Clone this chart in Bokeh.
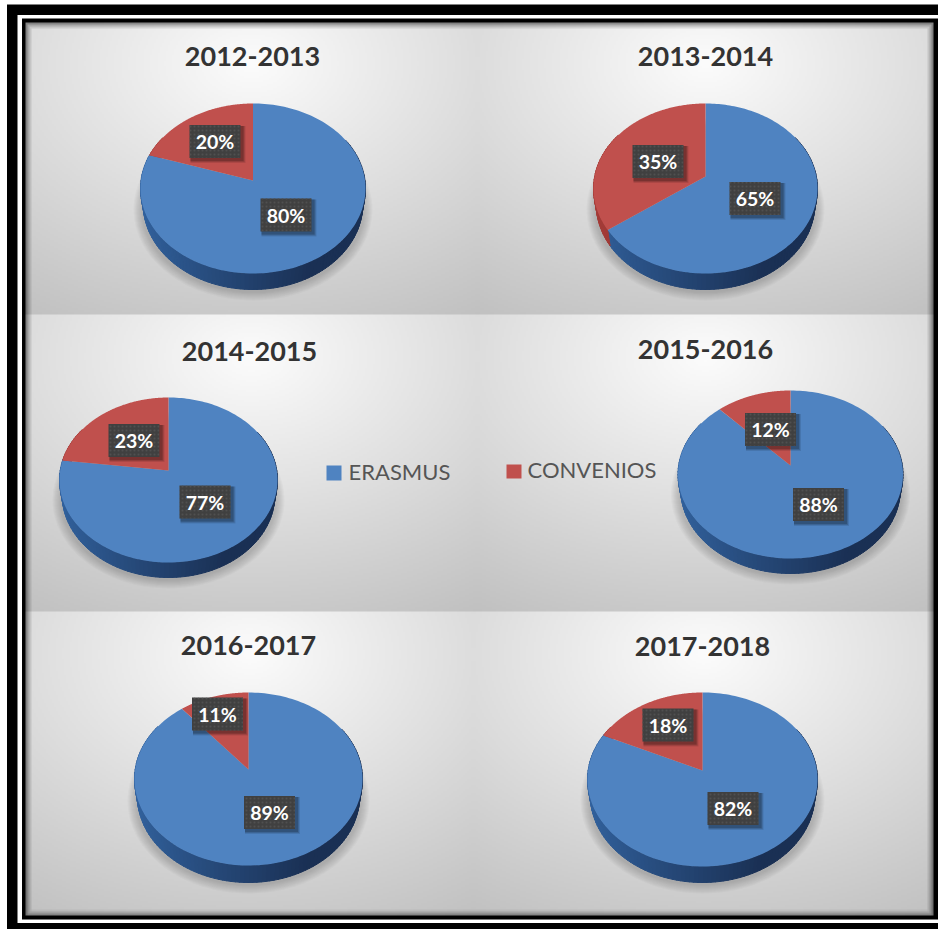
import numpy as np
from bokeh.embed import file_html
from bokeh.models import Range1d
from bokeh.plotting import figure
from bokeh.resources import INLINE
from bokeh.core.properties import value

# ---- data -----------------------------------------------------------------
years = ["2012-2013", "2013-2014", "2014-2015", "2015-2016", "2016-2017", "2017-2018"]
erasmus = [80, 65, 77, 88, 89, 82]
convenios = [20, 35, 23, 12, 11, 18]
series_names = ["ERASMUS", "CONVENIOS"]

# ---- layout (pixels in the picture) ---------------------------------------
W, H = 938, 929
# centre x, apex y, top y, bottom y, half width, depth
pies = [(252.5, 180, 103, 273, 112.5, 16), (705, 176, 103, 273, 112, 16),
        (168, 470, 397, 562, 109, 15), (790, 465, 390, 558, 112.5, 15),
        (248, 769, 692, 865, 114, 17), (702, 770, 692, 866, 115, 16)]
title_pos = [(252, 57), (705, 57), (249, 352), (705, 350), (248, 646), (702, 647)]
box_e = [(285.5, 214.5), (754.5, 198), (204.5, 501.5), (818, 504), (269, 812), (732.5, 808)]
box_c = [(214.5, 141), (657.5, 161), (133.5, 440), (770, 429), (217, 713.5), (667.5, 724.5)]
panels = [(25, 22, 477, 315), (477, 22, 933, 315), (25, 315, 477, 610),
          (477, 315, 933, 610), (25, 610, 473, 915), (473, 610, 933, 915)]
BLUE, RED = "#4f83c1", "#c0504d"


def Y(y):
    return H - np.asarray(y, dtype=float)


p = figure(width=W, height=H, x_range=Range1d(0, W), y_range=Range1d(0, H),
           output_backend="svg", toolbar_location=None, min_border=0,
           x_axis_location=None, y_axis_location=None, outline_line_color=None,
           background_fill_color="white", border_fill_color="white")
p.grid.visible = False

# frame
p.quad(left=6.5, right=W, top=Y(4), bottom=Y(H), fill_color="black", line_color=None)
p.quad(left=17, right=W, top=Y(14.5), bottom=Y(922.5), fill_color="white", line_color=None)
p.quad(left=21.5, right=W, top=Y(18), bottom=Y(919), fill_color="black", line_color=None)

# panel backgrounds
S = 2
gw, gh = (933 - 25) // S, (915 - 22) // S
xx, yy = np.meshgrid(25 + (np.arange(gw) + .5) * S, 22 + (np.arange(gh) + .5) * S)
img = np.zeros((gh, gw), dtype=float)
for (l, t, r, b) in panels:
    m = (xx >= l) & (xx < r) & (yy >= t) & (yy < b)
    cx, cy = (l + r) / 2, t + .14 * (b - t)
    d = np.sqrt(((xx - cx) / ((r - l) * .9)) ** 2 + ((yy - cy) / ((b - t) * .95)) ** 2)
    img[m] = (252 - 56 * d)[m]
edge = np.minimum.reduce([xx - 25, 933 - xx, yy - 22, 915 - yy])
img *= 0.4 + 0.6 * np.clip(edge / 7, 0, 1) ** .6
img = np.clip(img, 0, 255).astype(np.uint32)
rgba = (255 << 24) | (img << 16) | (img << 8) | img
p.image_rgba(image=[rgba[::-1]], x=25, y=H - 915, dw=908, dh=893)


def project(theta, pie):
    cx, ay, top, bot, rx, depth = pie
    up, dn = ay - top, bot - ay
    k = (dn - up) / (dn + up)
    b = up * (1 + k)
    a = rx * np.sqrt(1 - k * k)
    u, v = np.sin(theta), np.cos(theta)
    den = 1 + k * v
    return cx + a * u / den, ay - b * v / den


def mix(c1, c2, t):
    c = [round(x + (y - x) * t) for x, y in zip(c1, c2)]
    return "#%02x%02x%02x" % tuple(c)


for i, pie in enumerate(pies):
    cx, ay, top, bot, rx, depth = pie
    # soft shadow
    cy = (top + bot) / 2
    for g in range(9):
        p.ellipse(x=cx, y=Y(cy + depth + 5), width=2 * rx + 14 - 2 * g, height=bot - top + 12 - 2 * g,
                  fill_color="#505050", fill_alpha=0.035, line_color=None)
    split = erasmus[i] / 100 * 2 * np.pi
    # side wall: the base outline is a little narrower than the top face
    for a0 in np.arange(np.pi / 3, 5 * np.pi / 3, np.pi / 90):
        a1 = a0 + np.pi / 90 + .004
        x, y = project(np.array([a0, a1]), pie)
        bx0 = cx + (x - cx) * .975
        t = (np.sin(a0) + 1) / 2
        if a0 < split:
            col = mix((50, 98, 158), (26, 48, 84), min(1, t * 1.35))
        else:
            col = mix((165, 60, 56), (120, 40, 38), t)
        p.patch(x=[x[0], x[1], bx0[1], bx0[0]], y=Y([y[0], y[1], y[1] + depth, y[0] + depth]),
                fill_color=col, line_color=col, line_width=1)
    # top faces
    for start, stop, col in ((0, split, BLUE), (split, 2 * np.pi, RED)):
        th = np.linspace(start, stop, 180)
        x, y = project(th, pie)
        p.patch(x=np.r_[cx, x], y=Y(np.r_[ay, y]), fill_color=col, line_color=None)
    # data labels
    for val, (bx, by) in ((erasmus[i], box_e[i]), (convenios[i], box_c[i])):
        for g, al in ((4, .10), (3, .14), (2, .18)):
            p.rect(x=bx + g / 2 + 1, y=Y(by) - g / 2 - 1, width=51 + g, height=33 + g,
                   fill_color="black", fill_alpha=al, line_color=None)
        p.rect(x=bx, y=Y(by), width=51, height=33, fill_color="#404040", line_color=None,
               hatch_pattern="dot", hatch_color="#505050", hatch_scale=4, hatch_weight=1)
        p.text(x=[bx], y=Y([by]), text=[f"{val}%"], text_color="white",
               text_font=value("Lato"), text_font_style="bold", text_font_size="19.5px",
               text_align="center", text_baseline="middle")
    tx, ty = title_pos[i]
    p.text(x=[tx], y=Y([ty - 1]), text=[years[i]], text_color="#333333",
           text_font=value("Lato"), text_font_style="bold", text_font_size="27px",
           text_align="center", text_baseline="middle")

# legend
for name, col, sl, st, sw, sh, tx, ty in ((series_names[0], BLUE, 326, 465, 15, 15, 348, 471),
                                          (series_names[1], RED, 506, 464, 15, 14, 527, 469)):
    p.quad(left=sl, right=sl + sw, top=Y(st), bottom=Y(st + sh), fill_color=col, line_color=None)
    p.text(x=[tx], y=Y([ty]), text=[name], text_color="#555555", text_font=value("Lato"),
           text_font_size="22px", text_align="left", text_baseline="middle")

open("out.html", "w").write(file_html(p, INLINE))
